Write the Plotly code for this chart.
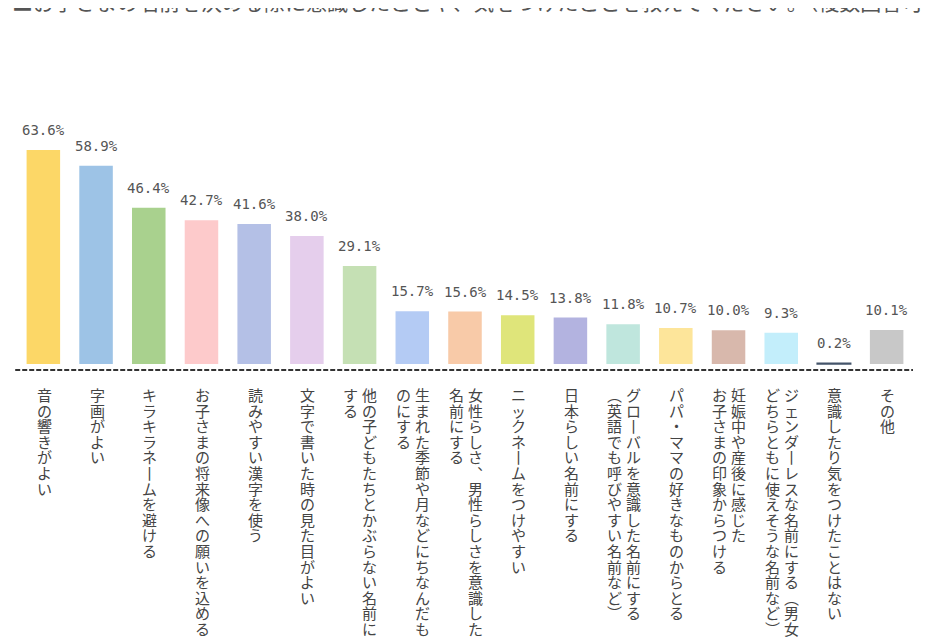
import plotly.graph_objects as go

title_text = "■お子さまの名前を決める際に意識したことや、気をつけたことを教えてください。（複数回答可）"

# label columns, right to left (vertical writing)
labels = [
    ["音の響きがよい"],
    ["字画がよい"],
    ["キラキラネームを避ける"],
    ["お子さまの将来像への願いを込める"],
    ["読みやすい漢字を使う"],
    ["文字で書いた時の見た目がよい"],
    ["他の子どもたちとかぶらない名前に", "する"],
    ["生まれた季節や月などにちなんだも", "のにする"],
    ["女性らしさ、男性らしさを意識した", "名前にする"],
    ["ニックネームをつけやすい"],
    ["日本らしい名前にする"],
    ["グローバルを意識した名前にする", "（英語でも呼びやすい名前など）"],
    ["パパ・ママの好きなものからとる"],
    ["妊娠中や産後に感じた", "お子さまの印象からつける"],
    ["ジェンダーレスな名前にする（男女", "どちらともに使えそうな名前など）"],
    ["意識したり気をつけたことはない"],
    ["その他"],
]

values = [63.6, 58.9, 46.4, 42.7, 41.6, 38.0, 29.1, 15.7, 15.6,
          14.5, 13.8, 11.8, 10.7, 10.0, 9.3, 0.2, 10.1]

colors = ["#FCD767", "#9DC3E6", "#A9D18E", "#FDCACB", "#B4C0E6", "#E5CEEC",
          "#C5E0B4", "#B4CBF4", "#F8CAA8", "#DFE57A", "#B3B3E0", "#BFE6DD",
          "#FDE59A", "#D8B8AC", "#C3EEFB", "#44546A", "#C8C8C8"]

# vertical forms for punctuation / long vowel mark
vert_map = {"ー": "丨", "、": "︑", "。": "︒", "（": "︵", "）": "︶"}

x = list(range(len(values)))

fig = go.Figure()
fig.add_trace(go.Bar(
    x=x,
    y=values,
    marker=dict(color=colors,
                line=dict(color=colors, width=[0] * 15 + [1.5, 0])),
    hoverinfo="skip",
))

annotations = []

# percentage labels
for i, v in enumerate(values):
    annotations.append(dict(
        x=i, y=v, xref="x", yref="y",
        text=f"{v:.1f}%",
        showarrow=False,
        yanchor="middle", yshift=20,
        font=dict(family="DejaVu Sans Mono", size=14, color="#555555"),
    ))

# vertical category labels
for i, cols in enumerate(labels):
    n = len(cols)
    for j, col in enumerate(cols):
        chars = [vert_map.get(c, c) for c in col]
        txt = "<br>".join(f"<span style='font-size:15px'>{c}</span>" for c in chars)
        if n == 1:
            xs = 1
        else:
            xs = 10 - j * 19
        annotations.append(dict(
            x=i, y=0, xref="x", yref="paper",
            text=txt,
            showarrow=False,
            xanchor="center", yanchor="top",
            xshift=xs, yshift=-12,
            align="center",
            font=dict(family="Noto Sans CJK JP", size=12, color="#444444"),
        ))

# title (cut off at the top edge like the source image)
annotations.append(dict(
    x=0, y=1, xref="paper", yref="paper",
    text=title_text,
    showarrow=False,
    xanchor="left", yanchor="middle",
    xshift=-7, yshift=99,
    font=dict(family="Noto Sans CJK JP", size=21, color="#555555"),
))

# page body adds 8px, so the figure is 8px smaller and margins shifted
fig.update_layout(
    width=922,
    height=632,
    margin=dict(l=9, r=17, t=92, b=270),
    paper_bgcolor="white",
    plot_bgcolor="white",
    showlegend=False,
    bargap=0.364,
    xaxis=dict(range=[-0.5, 16.5], showticklabels=False, showgrid=False,
               zeroline=False, showline=False, ticks=""),
    yaxis=dict(range=[-1.78, 78.44], showticklabels=False, showgrid=False,
               zeroline=False, showline=False, ticks=""),
    annotations=annotations,
    shapes=[dict(type="line", xref="paper", yref="paper",
                 x0=-0.002, x1=1.0, y0=0, y1=0,
                 line=dict(color="#333333", width=2, dash="5px,2px"))],
)

fig.write_html("out.html")
